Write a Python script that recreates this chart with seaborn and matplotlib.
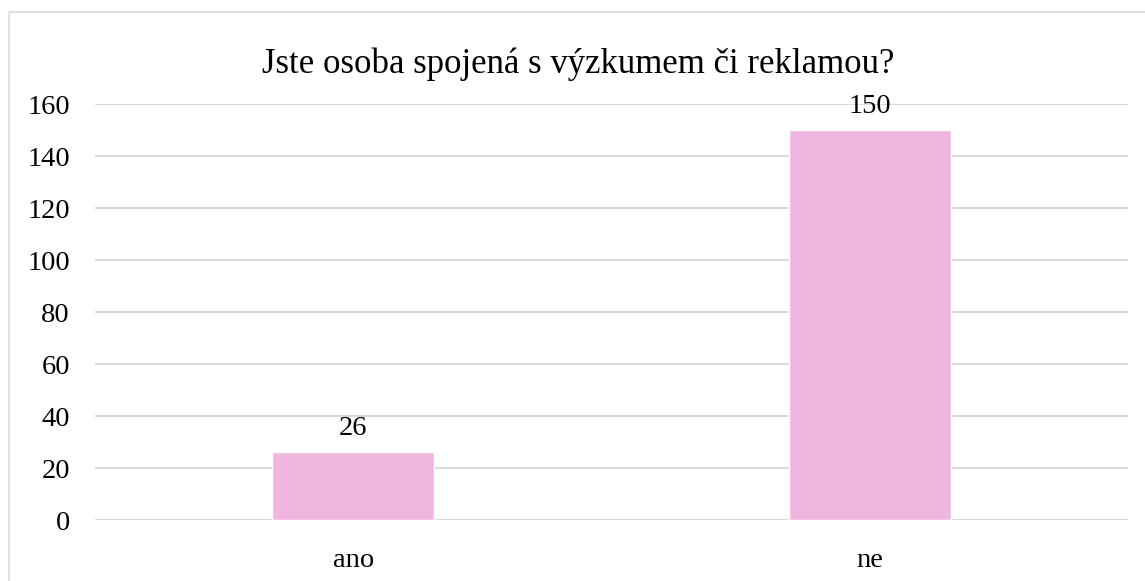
import matplotlib
matplotlib.use("Agg")
import matplotlib.pyplot as plt
import seaborn as sns
import pandas as pd
from matplotlib.lines import Line2D

# data
odpovedi = ["ano", "ne"]
pocty = [26, 150]
y_ticks = [0, 20, 40, 60, 80, 100, 120, 140, 160]

df = pd.DataFrame({"odpoved": odpovedi, "pocet": pocty})

sns.set_theme(style="white")
plt.rcParams['font.family'] = ['Liberation Serif', 'DejaVu Serif']

fig = plt.figure(figsize=(11.45, 5.81), dpi=100)
ax = fig.add_axes([95 / 1145, 1 - 520 / 581, 1033 / 1145, 416 / 581])

sns.barplot(data=df, x="odpoved", y="pocet", color="#F0B6E0", width=0.314,
            saturation=1, ax=ax, zorder=3)

ax.set_xlim(-0.5, 1.5)
ax.set_ylim(0, 160)
ax.set_yticks(y_ticks)
ax.yaxis.grid(True, color="#D9D9D9", linewidth=1.4, zorder=0)
ax.xaxis.grid(False)
for s in ax.spines.values():
    s.set_visible(False)
ax.tick_params(axis="y", length=0, pad=18, labelsize=20.5, labelcolor="black")
ax.tick_params(axis="x", length=0, pad=20, labelsize=20.5, labelcolor="black")
ax.set_xlabel("")
ax.set_ylabel("")

ax.bar_label(ax.containers[0], fontsize=20.5, padding=8, color="black")

fig.text(578 / 1145, 1 - 64 / 581, "Jste osoba spojená s výzkumem či reklamou?",
         ha="center", va="center", fontsize=25, color="black")

# chart-area border (top and left edges visible)
fig.add_artist(Line2D([9 / 1145, 9 / 1145, 1.0], [0.0, 1 - 12 / 581, 1 - 12 / 581],
                      transform=fig.transFigure, color="#D9D9D9", linewidth=1.2))

fig.savefig("out.png", dpi=100)
